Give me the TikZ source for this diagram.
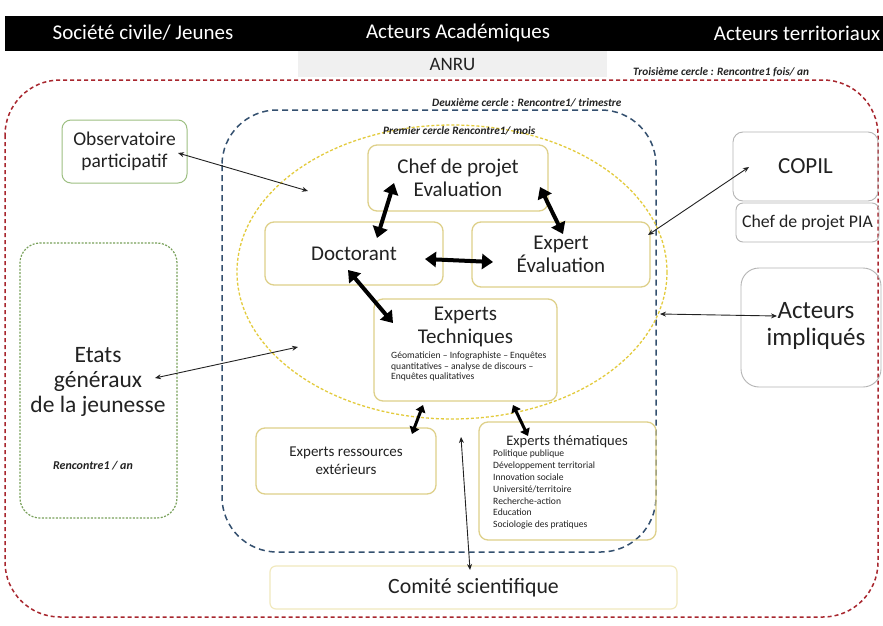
\documentclass[tikz,border=0pt]{standalone}
\usepackage{fontspec}
\setmainfont{Carlito}
\usetikzlibrary{arrows.meta}
\definecolor{txt}{HTML}{222222}
\definecolor{redd}{HTML}{A8262E}
\definecolor{blued}{HTML}{34506F}
\definecolor{yell}{HTML}{E3CB3C}
\definecolor{boxy}{HTML}{DED08A}
\definecolor{boxlight}{HTML}{F1E9BE}
\definecolor{greenb}{HTML}{9DBF82}
\definecolor{greend}{HTML}{78A05A}
\definecolor{grayb}{HTML}{B4B4B4}
\tikzset{
  fs/.style={font=\fontsize{#1}{\dimexpr #1pt*6/5\relax}\selectfont},
  ybox/.style={draw=boxy, line width=1.3pt, rounded corners=9pt, inner sep=0pt, align=center, text=txt},
  gbox/.style={draw=grayb, line width=0.9pt, rounded corners=10pt, inner sep=0pt, align=center, text=txt},
  lbl/.style={text=txt, inner sep=0pt, align=center},
  ilbl/.style={text=txt, inner sep=0pt, font=\fontsize{11.3}{13}\selectfont\bfseries\itshape},
  thin arrow/.style={draw=txt, line width=0.9pt, {Stealth[length=6pt,width=5pt]}-{Stealth[length=6pt,width=5pt]}},
  thick arrow/.style={draw=black, line width=4pt, {Triangle[length=11pt,width=15pt]}-{Triangle[length=11pt,width=15pt]}},
  short thick arrow/.style={draw=black, line width=3pt, {Triangle[length=7pt,width=10pt]}-{Triangle[length=7pt,width=10pt]}}
}
\begin{document}
\begin{tikzpicture}[x=1pt,y=-1pt]
\useasboundingbox[fill=white] (0,0) rectangle (883,626);
% header
\fill[black] (5,16) rectangle (883,51);
\node[text=white, fs=21, inner sep=0] (h1) at (143,33) {Société civile/ Jeunes};
\node[text=white, fs=21, inner sep=0] (h2) at (458,33) {Acteurs Académiques};
\node[text=white, fs=21, inner sep=0] (h3) at (797,33) {Acteurs territoriaux};
\node[fill=black!6, minimum width=309, minimum height=26, inner sep=0, text=txt, fs=19] (anru) at (452.5,64) {ANRU};
\node[ilbl, anchor=west] (l3) at (633,72) {Troisième cercle : Rencontre1 fois/ an};
% circles
\draw[redd, line width=1.5pt, dash pattern=on 4pt off 3pt, rounded corners=55pt] (5,80) rectangle (878,617);
\draw[blued, line width=1.5pt, dash pattern=on 6pt off 4pt, rounded corners=55pt] (222,110) rectangle (656,552);
\node[ilbl, anchor=west] (l2) at (432,103) {Deuxième cercle : Rencontre1/ trimestre};
\draw[yell, line width=1.3pt, dash pattern=on 3pt off 2pt] (452,272) ellipse [x radius=215, y radius=147];
\node[ilbl, anchor=west] (l1) at (383,131) {Premier cercle Rencontre1/ mois};
% inner boxes
\node[ybox, fill=white, minimum width=180, minimum height=66, fs=21] (chef) at (458,178) {Chef de projet\\[-2pt]Evaluation};
\node[ybox, fill=white, minimum width=178, minimum height=63, fs=21] (doct) at (354,253.5) {Doctorant};
\node[ybox, fill=white, minimum width=178, minimum height=65, fs=21] (expert) at (561,254.5) {Expert\\[-2pt]Évaluation};
\node[ybox, fill=white, minimum width=183, minimum height=102] (tech) at (465.5,350) {};
\node[lbl, fs=21] (techt) at (465.5,327) {Experts\\[-3pt]Techniques};
\node[lbl, fs=9.6, align=left, anchor=north west] (techs) at (391,352) {Géomaticien – Infographiste – Enquêtes\\[-1pt]quantitatives – analyse de discours –\\[-1pt]Enquêtes qualitatives};
\node[ybox, minimum width=180, minimum height=66, fs=15] (ress) at (346,461) {Experts ressources\\extérieurs};
\node[ybox, minimum width=177, minimum height=118] (them) at (567.5,481) {};
\node[lbl, fs=14.5] (themt) at (567,442) {Experts thématiques};
\node[lbl, fs=9.6, align=left, anchor=north west] (thems) at (493,450) {Politique publique\\[0.3pt]Développement territorial\\[0.3pt]Innovation sociale\\[0.3pt]Université/territoire\\[0.3pt]Recherche-action\\[0.3pt]Education\\[0.3pt]Sociologie des pratiques};
\node[draw=boxlight, line width=1.2pt, rounded corners=6pt, minimum width=407, minimum height=43, inner sep=0, text=txt, fs=21.8] (comite) at (473.5,587.5) {Comité scientifique};
% left
\node[draw=greenb, line width=1pt, rounded corners=9pt, minimum width=125, minimum height=63, inner sep=0, align=center, text=txt, fs=19.5] (obs) at (124.5,151.5) {Observatoire\\[-2pt]participatif};
\node[draw=greend, line width=1.2pt, dash pattern=on 2pt off 1.5pt, rounded corners=20pt, minimum width=157, minimum height=275, inner sep=0] (etats) at (98.5,380.5) {};
\node[lbl, fs=23.5] (etatst) at (98,382) {Etats\\[-3pt]généraux\\[-3pt]de la jeunesse};
\node[ilbl, font=\fontsize{12}{14}\selectfont\bfseries\itshape] (etatsr) at (93,466) {Rencontre1 / an};
% right
\node[gbox, minimum width=145, minimum height=69, fs=23] (copil) at (805.5,166.5) {COPIL};
\node[gbox, rounded corners=7pt, minimum width=143, minimum height=39, fs=17.8] (pia) at (807.5,222.5) {Chef de projet PIA};
\node[gbox, rounded corners=18pt, minimum width=140, minimum height=119] (act) at (811,327.5) {};
\node[lbl, fs=25] (actt) at (816,326) {Acteurs\\[-3pt]impliqués};
% coordinates for free ends
\coordinate (obsE) at (178,153);
\coordinate (obsIn) at (308,191);
\coordinate (etE) at (155,378);
\coordinate (etIn) at (298,347);
\coordinate (actE) at (777,316);
\coordinate (actIn) at (660,314);
\coordinate (copE) at (749,167);
\coordinate (expE) at (648,235);
\coordinate (comTop) at (461,437);
\coordinate (comE) at (470,570);
\coordinate (c1a) at (394,183);
\coordinate (c1b) at (377,238);
\coordinate (c2a) at (540,187);
\coordinate (c2b) at (563,234);
\coordinate (c3a) at (425,259);
\coordinate (c3b) at (493,262);
\coordinate (c4a) at (348,270);
\coordinate (c4b) at (393,323);
\coordinate (c5a) at (423,405);
\coordinate (c5b) at (412,434);
\coordinate (c6a) at (513,405);
\coordinate (c6b) at (528,436);
% thin arrows
\draw[thin arrow] (obsE) -- (obsIn);
\draw[thin arrow] (etE) -- (etIn);
\draw[thin arrow] (actIn) -- (actE);
\draw[thin arrow] (expE) -- (copE);
\draw[thin arrow] (comTop) -- (comE);
% thick arrows
\draw[thick arrow] (c1a) -- (c1b);
\draw[thick arrow] (c2a) -- (c2b);
\draw[thick arrow] (c3a) -- (c3b);
\draw[thick arrow] (c4a) -- (c4b);
\draw[short thick arrow] (c5a) -- (c5b);
\draw[short thick arrow] (c6a) -- (c6b);
\end{tikzpicture}
\end{document}
